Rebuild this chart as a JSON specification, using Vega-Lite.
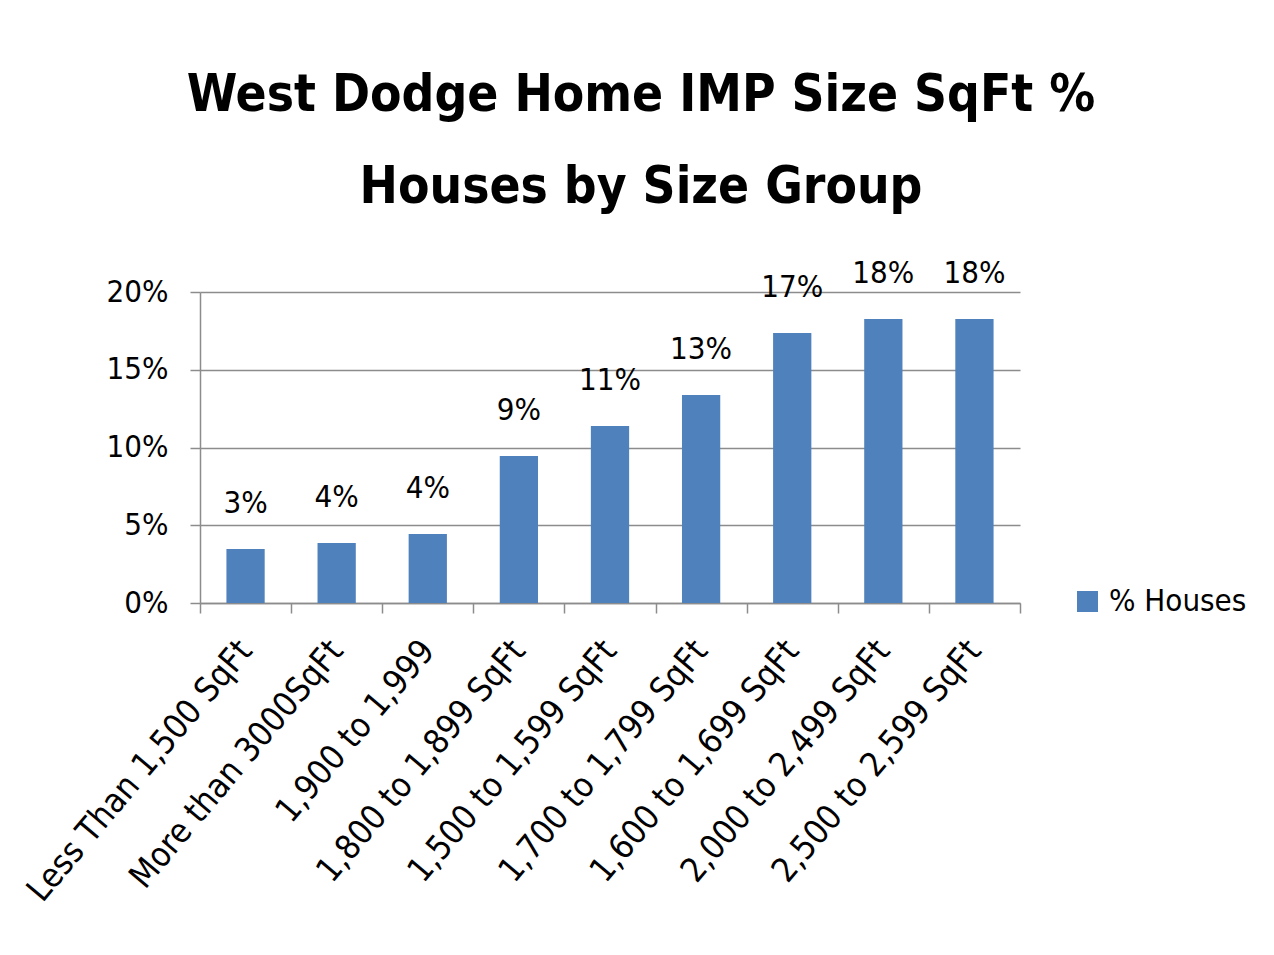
{
  "$schema": "https://vega.github.io/schema/vega-lite/v6.json",
  "width": 820,
  "height": 311,
  "autosize": {"type": "none"},
  "padding": {"left": 200, "top": 292, "right": 254, "bottom": 352},
  "background": "white",
  "title": {
    "text": ["West Dodge Home IMP Size SqFt %", "Houses by Size Group"],
    "font": "DejaVu Sans Condensed, sans-serif",
    "fontSize": 51,
    "fontWeight": "bold",
    "color": "black",
    "anchor": "middle",
    "frame": "group",
    "dx": 31,
    "offset": 44,
    "lineHeight": 92
  },
  "data": {
    "values": [
      {"group": "Less Than 1,500 SqFt", "pct": 0.0347, "series": "% Houses"},
      {"group": "More than 3000SqFt", "pct": 0.0386, "series": "% Houses"},
      {"group": "1,900 to 1,999", "pct": 0.0444, "series": "% Houses"},
      {"group": "1,800 to 1,899 SqFt", "pct": 0.0945, "series": "% Houses"},
      {"group": "1,500 to 1,599 SqFt", "pct": 0.1138, "series": "% Houses"},
      {"group": "1,700 to 1,799 SqFt", "pct": 0.1338, "series": "% Houses"},
      {"group": "1,600 to 1,699 SqFt", "pct": 0.1736, "series": "% Houses"},
      {"group": "2,000 to 2,499 SqFt", "pct": 0.1826, "series": "% Houses"},
      {"group": "2,500 to 2,599 SqFt", "pct": 0.1826, "series": "% Houses"}
    ]
  },
  "encoding": {
    "x": {
      "field": "group",
      "type": "nominal",
      "sort": null,
      "scale": {"paddingInner": 0, "paddingOuter": 0},
      "axis": {
        "title": null,
        "labelAngle": -50,
        "labelAlign": "right",
        "labelBaseline": "middle",
        "labelFont": "DejaVu Sans Condensed, sans-serif",
        "labelFontSize": 34,
        "labelColor": "black",
        "labelPadding": 32,
        "labelLimit": 0,
        "tickBand": "extent",
        "tickSize": 10,
        "tickColor": "#8c8c8c",
        "domainColor": "#8c8c8c",
        "domainWidth": 1.5,
        "tickWidth": 1.5
      }
    },
    "y": {
      "field": "pct",
      "type": "quantitative",
      "scale": {"domain": [0, 0.2], "nice": false},
      "axis": {
        "title": null,
        "format": ".0%",
        "values": [0, 0.05, 0.1, 0.15, 0.2],
        "labelFont": "DejaVu Sans Condensed, sans-serif",
        "labelFontSize": 31,
        "labelColor": "black",
        "labelPadding": 22,
        "tickSize": 10,
        "tickColor": "#8c8c8c",
        "domainColor": "#8c8c8c",
        "domainWidth": 1.5,
        "tickWidth": 1.5,
        "grid": true,
        "gridColor": "#8c8c8c",
        "gridWidth": 1.5
      }
    }
  },
  "layer": [
    {
      "mark": {"type": "bar", "color": "#4F81BD", "width": {"band": 0.42}},
      "encoding": {
        "color": {
          "field": "series",
          "type": "nominal",
          "scale": {"range": ["#4F81BD"]},
          "legend": {
            "title": null,
            "orient": "none",
            "legendX": 872,
            "legendY": 294,
            "symbolType": "square",
            "symbolSize": 440,
            "symbolStrokeWidth": 0,
            "labelFont": "DejaVu Sans Condensed, sans-serif",
            "labelFontSize": 31,
            "labelColor": "black",
            "labelOffset": 6
          }
        }
      }
    },
    {
      "mark": {
        "type": "text",
        "baseline": "middle",
        "dy": -45,
        "font": "DejaVu Sans Condensed, sans-serif",
        "fontSize": 31,
        "color": "black"
      },
      "encoding": {
        "text": {"field": "pct", "type": "quantitative", "format": ".0%"}
      }
    }
  ],
  "config": {
    "view": {"stroke": null}
  }
}
